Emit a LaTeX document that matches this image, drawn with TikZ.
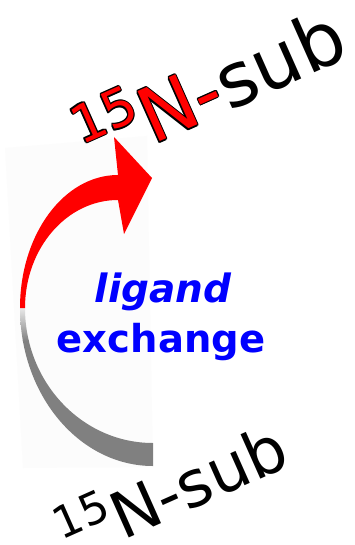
\documentclass[tikz,border=0pt]{standalone}
\usepackage{fontspec}
\setmainfont{DejaVu Sans}
\definecolor{arcred}{RGB}{255,0,0}
\definecolor{arcgrey}{RGB}{128,128,128}
\definecolor{txtblue}{RGB}{0,0,255}
\definecolor{panel}{RGB}{252,252,252}
\newcommand{\topsub}[2]{{\fontsize{52}{52}\selectfont\raisebox{29pt}{\color{#1}15}}{\color{#1}N-}#2}
\begin{document}
\begin{tikzpicture}[x=1pt,y=-1pt,
  toplabel/.style={anchor=base west,rotate=24,inner sep=0pt,outer sep=0pt,font=\fontsize{75}{77}\selectfont},
  botlabel/.style={anchor=base west,rotate=24,inner sep=0pt,outer sep=0pt,font=\fontsize{64}{66}\selectfont},
  bluelabel/.style={anchor=base,inner sep=0pt,text=txtblue}]
\useasboundingbox (0,0) rectangle (355,545);
\fill[white] (0,0) rectangle (355,545);
% faint panel
\fill[panel] (5,148) -- (147,136) -- (153,467) -- (23,468) -- cycle;
% grey lower arc, fading out towards its upper end
\begin{scope}
  \clip (20,308) .. controls (20,395.3) and (79.5,466) .. (153,466)
    -- (153,443) .. controls (82.3,443) and (25,382.6) .. (25,308) -- cycle;
  \fill[arcgrey] (10,340) rectangle (160,470);
  \shade[top color=arcgrey!15!white, bottom color=arcgrey] (10,307) rectangle (45,341);
\end{scope}
% red upper arc with head
\fill[arcred]
  (20,308) .. controls (20,234.5) and (63.9,175) .. (118,175)
  -- (114,137) -- (152,178) -- (124,234) -- (118,200)
  .. controls (66.6,200) and (25,248.4) .. (25,308) -- cycle;
% blue labels
\node[bluelabel,font=\fontsize{39}{40}\selectfont\bfseries\itshape] (lig) at (163,302) {ligand};
\node[bluelabel,font=\fontsize{38.5}{40}\selectfont\bfseries] (exc) at (161,352) {exchange};
% top label with outline on the red part only
\foreach \a [count=\i] in {0,45,...,315}
  \node[toplabel,shift={(\a:1.2pt)}] (topo\i) at (92.8,171.9) {\topsub{black}{\phantom{sub}}};
\node[toplabel] (top) at (92.8,171.9) {\topsub{arcred}{sub}};
% bottom label
\node[botlabel] (bot) at (72,563) {{\fontsize{44}{44}\selectfont\raisebox{25pt}{15}}N-sub};
\end{tikzpicture}
\end{document}
